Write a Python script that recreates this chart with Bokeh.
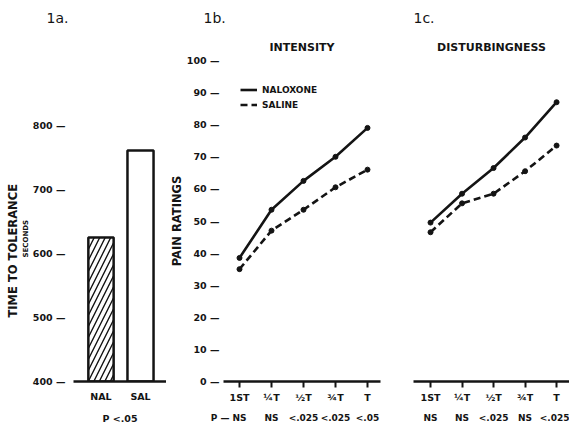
from bokeh.plotting import figure
from bokeh.layouts import row
from bokeh.models import (Range1d, FixedTicker, LinearAxis, Title, Legend, LegendItem)
from bokeh.embed import file_html
from bokeh.resources import INLINE

# ---------------- data ----------------
groups = ["NAL", "SAL"]
tolerance_sec = [625, 761]
tolerance_ticks = [400, 500, 600, 700, 800]
tolerance_p = "P <.05"

stages = ["1ST", "\u00bcT", "\u00bdT", "\u00beT", "T"]
rating_ticks = [0, 10, 20, 30, 40, 50, 60, 70, 80, 90, 100]

intensity_naloxone = [38.5, 53.5, 62.5, 70.0, 79.0]
intensity_saline = [35.0, 47.0, 53.5, 60.5, 66.0]
intensity_p = ["NS", "NS", "<.025", "<.025", "<.05"]

disturb_naloxone = [49.5, 58.5, 66.5, 76.0, 87.0]
disturb_saline = [46.5, 55.5, 58.5, 65.5, 73.5]
disturb_p = ["NS", "NS", "<.025", "NS", "<.025"]

series_names = ["NALOXONE", "SALINE"]

# ---------------- style ----------------
FONT = "DejaVu Sans"
INK = "#141414"
TICK_FS = "9.5px"
P_FS = "9px"
P_PAD = "\u2003\u2003\u2005\u2006"   # balances the width of "P \u2014 "


def base_fig(width, x_range, y_range, left, right, y_axis=True):
    p = figure(width=width, height=426, x_range=x_range, y_range=y_range,
               min_border_left=left, min_border_right=right,
               min_border_top=60, min_border_bottom=45,
               toolbar_location=None, output_backend="svg",
               y_axis_location="left" if y_axis else None)
    p.outline_line_color = None
    p.grid.visible = False
    p.background_fill_color = "white"
    p.border_fill_color = "white"
    return p


def style_axis(ax, size=TICK_FS):
    ax.major_label_text_font = FONT
    ax.major_label_text_font_style = "bold"
    ax.major_label_text_font_size = size
    ax.major_label_text_color = INK
    ax.minor_tick_line_color = None
    ax.axis_label_text_font = FONT
    ax.axis_label_text_font_style = "bold"
    ax.axis_label_text_color = INK


def style_y(p, ticks, standoff):
    ax = p.yaxis[0]
    style_axis(ax)
    ax.ticker = FixedTicker(ticks=ticks)
    ax.major_label_overrides = {t: f"{t} \u2014" for t in ticks}
    ax.axis_line_color = None
    ax.major_tick_line_color = None
    ax.major_tick_out = 0
    ax.major_tick_in = 0
    ax.major_label_standoff = standoff
    return ax


def style_x(ax, positions, labels, tick_out, standoff, size=TICK_FS):
    style_axis(ax, size)
    ax.ticker = FixedTicker(ticks=positions)
    ax.major_label_overrides = {x: s for x, s in zip(positions, labels)}
    ax.axis_line_color = INK
    ax.axis_line_width = 2.5
    ax.major_tick_line_color = INK if tick_out else None
    ax.major_tick_line_width = 2
    ax.major_tick_out = tick_out
    ax.major_tick_in = 0
    ax.major_label_standoff = standoff


def title(text, size, bold=True, align="center", offset=0, standoff=0):
    return Title(text=text, align=align, offset=offset, standoff=standoff,
                 text_font=FONT, text_font_size=size,
                 text_font_style="bold" if bold else "normal", text_color=INK)


# ---------------- panel 1a ----------------
pa = base_fig(166, Range1d(0.304, 2.658), Range1d(400, 901.6), 73, 0)
style_y(pa, tolerance_ticks, 8)
xa = [i + 1 for i in range(len(groups))]
style_x(pa.xaxis[0], xa, groups, 0, 9)
pa.xaxis[0].axis_label = tolerance_p
pa.xaxis[0].axis_label_text_font_size = TICK_FS
pa.xaxis[0].axis_label_standoff = 8

pa.vbar(x=xa[0], top=tolerance_sec[0], bottom=tolerance_ticks[0], width=0.64,
        fill_color="white", line_color=INK, line_width=2.5,
        hatch_pattern="/", hatch_color=INK, hatch_scale=11, hatch_weight=1.4)
pa.vbar(x=xa[1], top=tolerance_sec[1], bottom=tolerance_ticks[0], width=0.66,
        fill_color="white", line_color=INK, line_width=2.5)
pa.add_layout(title("SECONDS", "7px", align="left", offset=124, standoff=0), "left")
pa.add_layout(title("TIME TO TOLERANCE", "11.5px", align="left", offset=64,
                    standoff=0), "left")
pa.add_layout(title("\u2002", "11px", standoff=12.5), "above")
pa.add_layout(title("1a.", "14px", bold=False, align="left", offset=-27,
                    standoff=14), "above")


# ---------------- line panels ----------------
def line_panel(width, x_range, left, right, y_axis, nal, sal, pvals, heading,
               tag, tag_offset, legend, first_p_label):
    p = base_fig(width, x_range, Range1d(0, 100), left, right, y_axis)
    if y_axis:
        ay = style_y(p, rating_ticks, 4)
        ay.axis_label = "PAIN RATINGS"
        ay.axis_label_text_font_size = "11.5px"
        ay.axis_label_standoff = 0
    xs = list(range(len(stages)))
    style_x(p.xaxis[0], xs, stages, 6, 4)
    # significance row under the time points
    pax = LinearAxis()
    style_x(pax, xs, [first_p_label] + pvals[1:], 0, 7, P_FS)
    pax.axis_line_color = None
    p.add_layout(pax, "below")

    r1 = p.line(xs, nal, line_width=2.6, line_color=INK)
    r2 = p.line(xs, sal, line_width=2.6, line_color=INK, line_dash="7 4")
    p.scatter(xs, nal, size=5, color=INK)
    p.scatter(xs, sal, size=5, color=INK)

    p.add_layout(title(heading, "11px", standoff=12.5), "above")
    p.add_layout(title(tag, "14px", bold=False, align="left", offset=tag_offset,
                       standoff=14), "above")
    if legend:
        lg = Legend(items=[LegendItem(label=series_names[0], renderers=[r1]),
                           LegendItem(label=series_names[1], renderers=[r2])],
                    location=(17, 270), orientation="vertical",
                    glyph_width=17, glyph_height=13, label_height=13,
                    label_standoff=5, spacing=2, padding=0, margin=0,
                    border_line_color=None, background_fill_alpha=0,
                    label_text_font=FONT, label_text_font_style="bold",
                    label_text_font_size="9px", label_text_color=INK)
        p.add_layout(lg)
    return p


pb = line_panel(229, Range1d(-0.5, 4.406), 57, 15, True,
                intensity_naloxone, intensity_saline, intensity_p,
                "INTENSITY", "1b.", -20, True,
                "P \u2014 " + intensity_p[0] + P_PAD)

pc = line_panel(174, Range1d(-0.54, 4.41), 18, 0, False,
                disturb_naloxone, disturb_saline, disturb_p,
                "DISTURBINGNESS", "1c.", 0, False, disturb_p[0])

layout = row(pa, pb, pc)
open("out.html", "w").write(file_html(layout, INLINE))
